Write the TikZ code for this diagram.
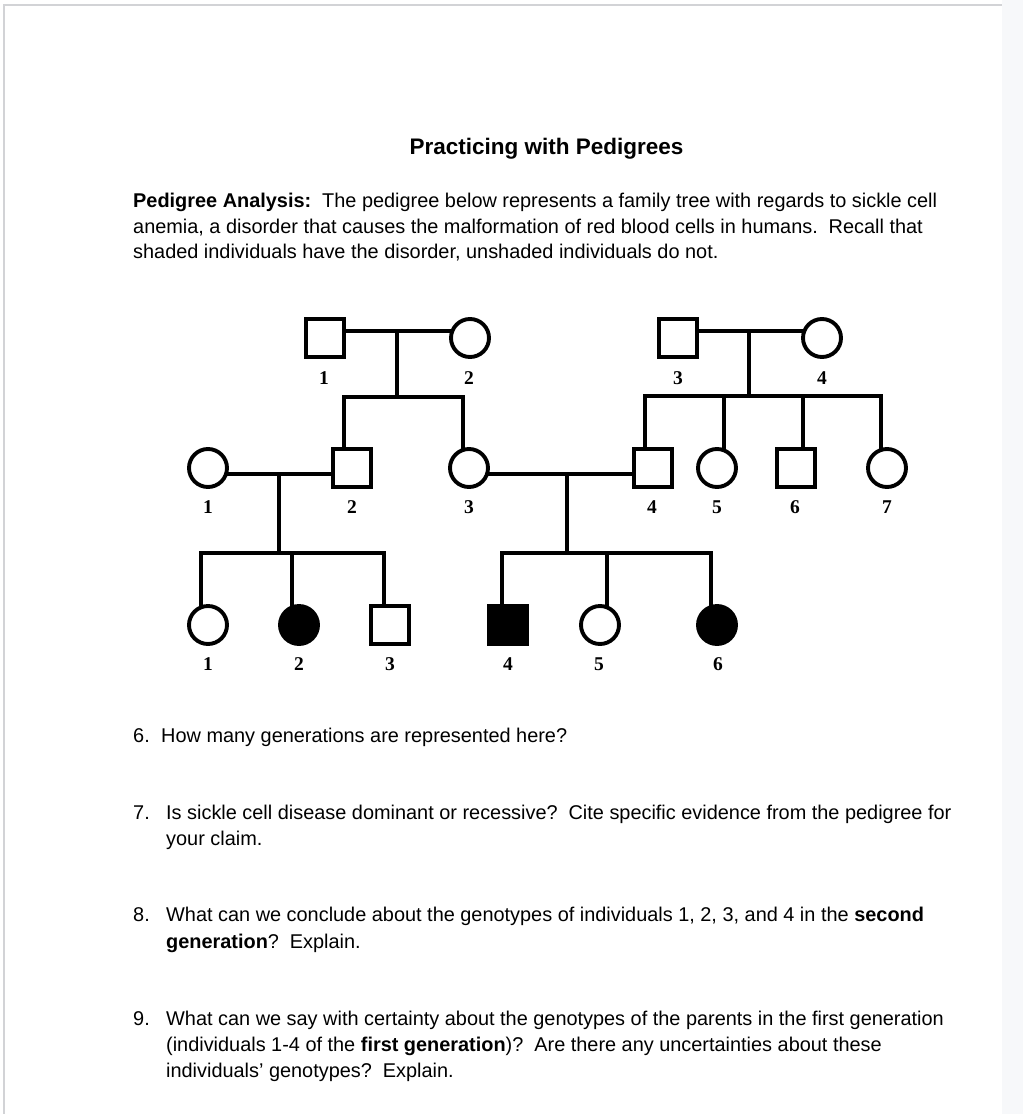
\documentclass[tikz,border=0pt]{standalone}
\usepackage{fontspec}
\setmainfont{Liberation Sans}
\newfontfamily\lblfont{Liberation Serif}
\usetikzlibrary{backgrounds}
\definecolor{strip}{HTML}{F7F8FA}
\definecolor{edgegray}{HTML}{D2D3D6}
\tikzset{
  person/.style={draw, line width=3.9pt, inner sep=0pt, fill=white},
  male/.style={person, rectangle, minimum size=38pt},
  female/.style={person, circle, minimum size=38pt},
  affected/.style={fill=black},
  ln/.style={line width=3.9pt, line join=miter},
  lab/.style={font=\lblfont\bfseries\fontsize{19.5}{21}\selectfont, inner sep=0pt, anchor=base},
  txt/.style={font=\fontsize{19.9}{24}\selectfont, inner sep=0pt, anchor=base west},
  ttl/.style={font=\bfseries\fontsize{22.5}{26}\selectfont, inner sep=0pt, anchor=base}
}
\begin{document}
\begin{tikzpicture}[x=1pt,y=-1pt]
\useasboundingbox (0,0) rectangle (1023,1114);

% ---- text ----
\node[ttl] (title) at (546.5,154) {Practicing with Pedigrees};
\node[txt] (p1) at (133,207.5) {\textbf{Pedigree Analysis:}\hspace{0.55em}The pedigree below represents a family tree with regards to sickle cell};
\node[txt] (p2) at (133,233) {anemia, a disorder that causes the malformation of red blood cells in humans.\hspace{0.55em}Recall that};
\node[txt] (p3) at (133,258.5) {shaded individuals have the disorder, unshaded individuals do not.};

\node[txt] (q6n) at (133,742) {6.};
\node[txt] (q6) at (161,742) {How many generations are represented here?};
\node[txt] (q7n) at (133,819) {7.};
\node[txt] (q7a) at (166,819) {Is sickle cell disease dominant or recessive?\hspace{0.55em}Cite specific evidence from the pedigree for};
\node[txt] (q7b) at (166,845) {your claim.};
\node[txt] (q8n) at (133,921.5) {8.};
\node[txt] (q8a) at (166,921.5) {What can we conclude about the genotypes of individuals 1, 2, 3, and 4 in the \textbf{second}};
\node[txt] (q8b) at (166,948) {\textbf{generation}?\hspace{0.55em}Explain.};
\node[txt] (q9n) at (133,1025) {9.};
\node[txt] (q9a) at (166,1025) {What can we say with certainty about the genotypes of the parents in the first generation};
\node[txt] (q9b) at (166,1051) {(individuals 1-4 of the \textbf{first generation})?\hspace{0.55em}Are there any uncertainties about these};
\node[txt] (q9c) at (166,1077) {individuals’ genotypes?\hspace{0.55em}Explain.};

% ---- generation I ----
\node[male]   (I1) at (325,338) {};
\node[female] (I2) at (470,338) {};
\node[male]   (I3) at (678,338) {};
\node[female] (I4) at (822,338) {};
% ---- generation II ----
\node[female] (II1) at (208,468) {};
\node[male]   (II2) at (352,468) {};
\node[female] (II3) at (469,468) {};
\node[male]   (II4) at (653,468) {};
\node[female] (II5) at (717,468) {};
\node[male]   (II6) at (796,468) {};
\node[female] (II7) at (887,468) {};
% ---- generation III ----
\node[female]           (III1) at (208,625) {};
\node[female, affected] (III2) at (299,625) {};
\node[male]             (III3) at (390,625) {};
\node[male, affected]   (III4) at (508,625) {};
\node[female]           (III5) at (600,625) {};
\node[female, affected] (III6) at (717,625) {};

% ---- labels ----
\node[lab] (lI1) at (324,384) {1};
\node[lab] (lI2) at (469,384) {2};
\node[lab] (lI3) at (678,384) {3};
\node[lab] (lI4) at (822,384) {4};
\node[lab] (lII1) at (208,513) {1};
\node[lab] (lII2) at (352,513) {2};
\node[lab] (lII3) at (469,513) {3};
\node[lab] (lII4) at (652,513) {4};
\node[lab] (lII5) at (717,513) {5};
\node[lab] (lII6) at (795,513) {6};
\node[lab] (lII7) at (887,513) {7};
\node[lab] (lIII1) at (208,670) {1};
\node[lab] (lIII2) at (299,670) {2};
\node[lab] (lIII3) at (390,670) {3};
\node[lab] (lIII4) at (508,670) {4};
\node[lab] (lIII5) at (599,670) {5};
\node[lab] (lIII6) at (718,670) {6};

% ---- junction coordinates ----
\coordinate (m1) at (397,331);
\coordinate (m2) at (749,331);
\coordinate (m3) at (279,474);
\coordinate (m4) at (567,474);
\coordinate (a1) at (344,397);
\coordinate (a2) at (463,397);
\coordinate (b1) at (645,396);
\coordinate (b2) at (724,396);
\coordinate (b3) at (803,396);
\coordinate (b4) at (881,396);
\coordinate (c1) at (201,553);
\coordinate (c2) at (292,553);
\coordinate (c3) at (384,553);
\coordinate (d1) at (502,553);
\coordinate (d2) at (607,553);
\coordinate (d3) at (711,553);

\begin{scope}[on background layer]
  % page frame
  \fill[strip] (1002,0) rectangle (1023,1114);
  \draw[edgegray, line width=2pt] (3,5) -- (1002,5);
  \draw[edgegray, line width=1.5pt] (4,5) -- (4,1114);
  % marriages
  \draw[ln] (I1.center |- m1) -- (I2.center |- m1);
  \draw[ln] (I3.center |- m2) -- (I4.center |- m2);
  \draw[ln] (II1.center |- m3) -- (II2.center |- m3);
  \draw[ln] (II3.center |- m4) -- (II4.center |- m4);
  % descent lines
  \draw[ln] (m1) -- (m1 |- a1);
  \draw[ln] (a1 |- II2.center) -- (a1) -- (a2) -- (a2 |- II3.center);
  \draw[ln] (m2) -- (m2 |- b1);
  \draw[ln] (b1 |- II4.center) -- (b1) -- (b4) -- (b4 |- II7.center);
  \draw[ln] (b2) -- (b2 |- II5.center);
  \draw[ln] (b3) -- (b3 |- II6.center);
  \draw[ln] (m3) -- (m3 |- c1);
  \draw[ln] (c1 |- III1.center) -- (c1) -- (c3) -- (c3 |- III3.center);
  \draw[ln] (c2) -- (c2 |- III2.center);
  \draw[ln] (m4) -- (m4 |- d1);
  \draw[ln] (d1 |- III4.center) -- (d1) -- (d3) -- (d3 |- III6.center);
  \draw[ln] (d2) -- (d2 |- III5.center);
\end{scope}
\end{tikzpicture}
\end{document}
